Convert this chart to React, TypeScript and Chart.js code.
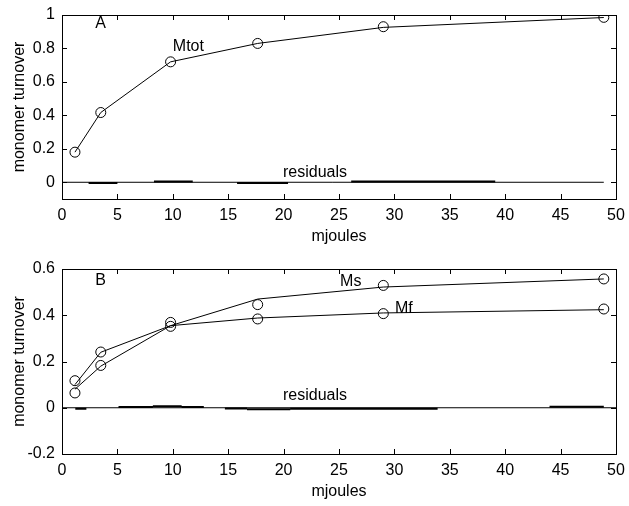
import React, { useEffect, useRef } from "react";
import { Chart, registerables } from "chart.js";
Chart.register(...registerables);

// ---- data ----
const energy = [1.17, 3.5, 9.8, 17.66, 29.0, 48.9];

const mtotObs = [0.18, 0.417, 0.72, 0.83, 0.93, 0.986];
const mtotFit = [0.18, 0.417, 0.72, 0.83, 0.926, 0.985];

const msObs = [0.064, 0.183, 0.352, 0.446, 0.529, 0.557];
const msFit = [0.08, 0.18, 0.355, 0.47, 0.522, 0.557];
const mfObs = [0.117, 0.241, 0.369, 0.384, 0.407, 0.427];
const mfFit = [0.1, 0.24, 0.355, 0.388, 0.41, 0.424];

const residAStart = [2.4, 8.3, 15.8, 26.1];
const residAEnd = [5.0, 11.8, 20.4, 39.1];
const residAValue = [-0.005, 0.004, -0.005, 0.004];

const residBStart = [1.2, 5.1, 8.2, 10.8, 14.7, 16.7, 20.6, 44.0];
const residBEnd = [2.2, 8.2, 10.8, 12.8, 16.7, 20.6, 33.9, 48.9];
const residBValue = [-0.004, 0.003, 0.007, 0.003, -0.003, -0.007, -0.004, 0.004];

const zeroLineAX = [0, 48.9];
const zeroLineBX = [0, 50];

const xTicks = [0, 5, 10, 15, 20, 25, 30, 35, 40, 45, 50];
const yTicksA = [0, 0.2, 0.4, 0.6, 0.8, 1];
const yTicksB = [-0.2, 0, 0.2, 0.4, 0.6];

const textA = ["A", "Mtot", "residuals"];
const textAX = [3.0, 10.0, 19.95];
const textAY = [0.946, 0.812, 0.057];
const textB = ["B", "Ms", "Mf", "residuals"];
const textBX = [3.0, 25.1, 30.05, 19.95];
const textBY = [0.549, 0.544, 0.43, 0.053];

const FONT = "'Liberation Sans', Arial, Helvetica, sans-serif";

function pts(xs: number[], ys: number[]) {
  return xs.map((x, i) => ({ x, y: ys[i] }));
}
function segs(s: number[], e: number[], v: number[]) {
  const out: any[] = [];
  s.forEach((x, i) => {
    out.push({ x, y: v[i] });
    out.push({ x: e[i], y: v[i] });
    out.push({ x: e[i], y: null });
  });
  return out;
}

function makeConfig(opts: {
  datasets: any[];
  yMin: number;
  yMax: number;
  yTicks: number[];
  padTop: number;
  xHeight: number;
  titlePadBottom: number;
  texts: string[];
  tx: number[];
  ty: number[];
}) {
  const boxPlugin = {
    id: "matlabBox",
    afterDatasetsDraw(chart: any) {
      const { ctx, chartArea } = chart;
      const { left, right, top, bottom } = chartArea;
      const xs = chart.scales.x;
      const ys = chart.scales.y;
      ctx.save();
      ctx.strokeStyle = "#000";
      ctx.lineWidth = 1;
      ctx.strokeRect(Math.round(left) + 0.5, Math.round(top) + 0.5, Math.round(right - left), Math.round(bottom - top));
      ctx.beginPath();
      const tl = 5;
      xTicks.forEach((v) => {
        const px = Math.round(xs.getPixelForValue(v)) + 0.5;
        ctx.moveTo(px, bottom);
        ctx.lineTo(px, bottom - tl);
        ctx.moveTo(px, top);
        ctx.lineTo(px, top + tl);
      });
      opts.yTicks.forEach((v) => {
        const py = Math.round(ys.getPixelForValue(v)) + 0.5;
        ctx.moveTo(left, py);
        ctx.lineTo(left + tl, py);
        ctx.moveTo(right, py);
        ctx.lineTo(right - tl, py);
      });
      ctx.stroke();
      // annotations
      ctx.fillStyle = "#000";
      ctx.font = `16px ${FONT}`;
      ctx.textAlign = "left";
      ctx.textBaseline = "middle";
      opts.texts.forEach((t, i) => {
        ctx.fillText(t, xs.getPixelForValue(opts.tx[i]), ys.getPixelForValue(opts.ty[i]));
      });
      ctx.restore();
    },
  };

  return {
    type: "scatter" as const,
    data: { datasets: opts.datasets },
    plugins: [boxPlugin],
    options: {
      animation: false,
      responsive: false,
      events: [],
      layout: { padding: { top: opts.padTop, right: 13, left: 0, bottom: 0 } },
      plugins: { legend: { display: false }, tooltip: { enabled: false } },
      scales: {
        x: {
          type: "linear",
          min: 0,
          max: 50,
          grid: { display: false, drawTicks: false },
          border: { display: false },
          afterBuildTicks: (s: any) => {
            s.ticks = xTicks.map((v) => ({ value: v }));
          },
          afterFit: (s: any) => {
            s.height = opts.xHeight;
            s.paddingLeft = 0;
            s.paddingRight = 0;
          },
          ticks: {
            color: "#000",
            padding: 7,
            maxRotation: 0,
            font: { family: FONT, size: 16 },
            callback: (v: any) => String(v),
          },
          title: {
            display: true,
            text: "mjoules",
            color: "#000",
            font: { family: FONT, size: 16 },
            padding: { top: 0, bottom: opts.titlePadBottom },
          },
        },
        y: {
          type: "linear",
          min: opts.yMin,
          max: opts.yMax,
          grid: { display: false, drawTicks: false },
          border: { display: false },
          afterBuildTicks: (s: any) => {
            s.ticks = opts.yTicks.map((v) => ({ value: v }));
          },
          afterFit: (s: any) => {
            s.width = 62;
            s.paddingTop = 0;
            s.paddingBottom = 0;
          },
          ticks: {
            color: "#000",
            padding: 7,
            font: { family: FONT, size: 16 },
            callback: (v: any) => String(v),
          },
          title: {
            display: true,
            text: "monomer turnover",
            color: "#000",
            font: { family: FONT, size: 16 },
            padding: { top: 10, bottom: 0 },
          },
        },
      },
    },
  };
}

const lineDs = (data: any[], width = 1) => ({
  data,
  showLine: true,
  borderColor: "#000",
  borderWidth: width,
  pointRadius: 0,
  fill: false,
  spanGaps: false,
});
const markDs = (data: any[]) => ({
  data,
  showLine: false,
  pointStyle: "circle",
  pointRadius: 5,
  pointBorderWidth: 1,
  pointBorderColor: "#000",
  pointBackgroundColor: "rgba(0,0,0,0)",
});

function Panel({ which }: { which: "A" | "B" }) {
  const ref = useRef<HTMLCanvasElement | null>(null);
  useEffect(() => {
    if (!ref.current) return;
    let cfg: any;
    if (which === "A") {
      cfg = makeConfig({
        datasets: [
          lineDs(pts(energy, mtotFit)),
          markDs(pts(energy, mtotObs)),
          lineDs(pts(zeroLineAX, [0, 0])),
          lineDs(segs(residAStart, residAEnd, residAValue), 2),
        ],
        yMin: -0.1,
        yMax: 1,
        yTicks: yTicksA,
        padTop: 15,
        xHeight: 54,
        titlePadBottom: 7,
        texts: textA,
        tx: textAX,
        ty: textAY,
      });
    } else {
      cfg = makeConfig({
        datasets: [
          lineDs(pts(energy, msFit)),
          lineDs(pts(energy, mfFit)),
          markDs(pts(energy, msObs)),
          markDs(pts(energy, mfObs)),
          lineDs(pts(zeroLineBX, [0, 0])),
          lineDs(segs(residBStart, residBEnd, residBValue), 2),
        ],
        yMin: -0.2,
        yMax: 0.6,
        yTicks: yTicksB,
        padTop: 16,
        xHeight: 52,
        titlePadBottom: 5,
        texts: textB,
        tx: textBX,
        ty: textBY,
      });
    }
    const chart = new Chart(ref.current, cfg);
    return () => chart.destroy();
  }, [which]);
  return <canvas ref={ref} width={629} height={253} style={{ display: "block", width: 629, height: 253 }} />;
}

export default function App() {
  return (
    <div style={{ position: "absolute", left: 0, top: 0, width: 629, height: 506, background: "#fff" }}>
      <Panel which="A" />
      <Panel which="B" />
    </div>
  );
}
